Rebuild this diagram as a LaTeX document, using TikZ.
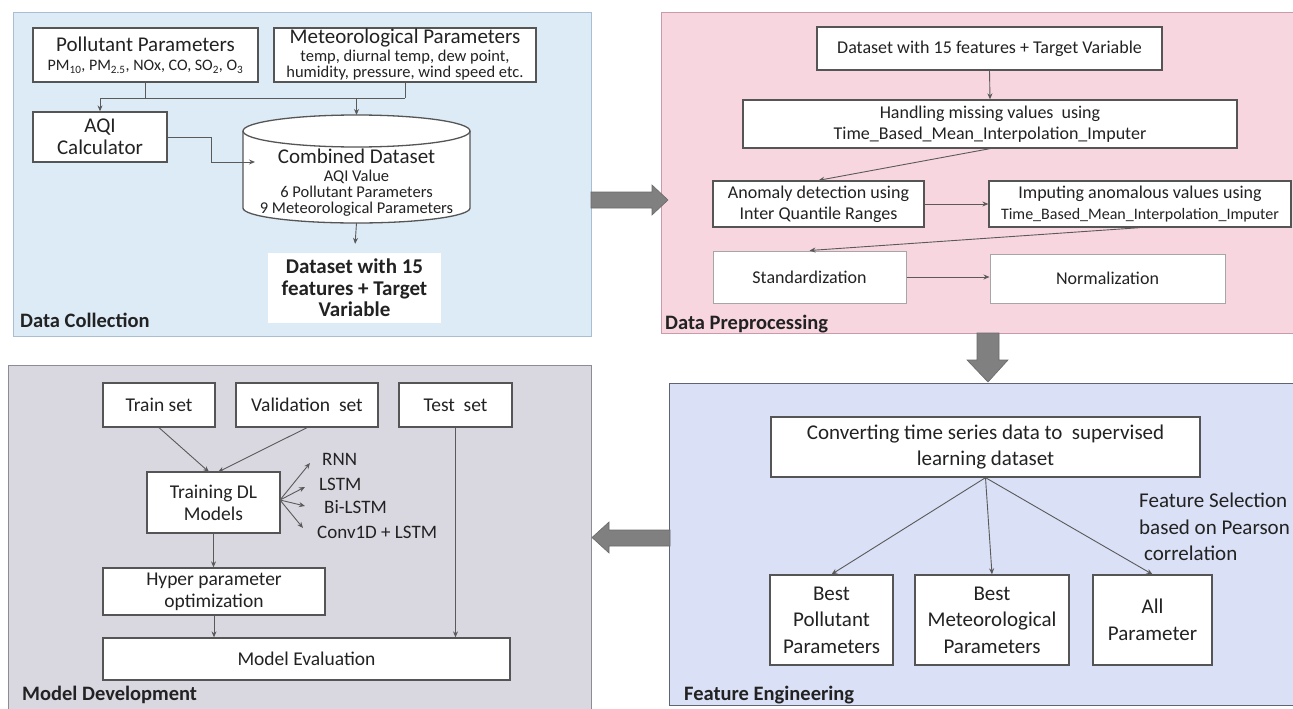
\documentclass[tikz,border=0pt]{standalone}
\usepackage{fontspec}
\setmainfont{Carlito}
\usetikzlibrary{arrows.meta}
\definecolor{dcfill}{HTML}{DDEBF7}
\definecolor{dcline}{HTML}{A9BED3}
\definecolor{dpfill}{HTML}{F7D6E0}
\definecolor{dpline}{HTML}{C99AAA}
\definecolor{mdfill}{HTML}{D9D8E1}
\definecolor{mdline}{HTML}{8C8C94}
\definecolor{fefill}{HTML}{DAE0F5}
\definecolor{feline}{HTML}{5F6372}
\definecolor{boxline}{HTML}{555555}
\definecolor{lightline}{HTML}{A6A6A6}
\definecolor{connc}{HTML}{5A5A5A}
\definecolor{txt}{HTML}{222222}
\definecolor{arrowc}{HTML}{808080}
\definecolor{arrowd}{HTML}{6A6A6A}
\tikzset{
 panel/.style={rectangle, line width=1pt, inner sep=0pt},
 box/.style={rectangle, draw=boxline, line width=1.3pt, fill=white, inner sep=0pt, align=center, text=txt},
 lbox/.style={box, draw=lightline, line width=1pt},
 conn/.style={draw=connc, line width=0.9pt},
 arr/.style={conn, -{Stealth[length=6pt,width=5pt]}},
 plabel/.style={anchor=base west, inner sep=0pt, text=txt, font=\bfseries\fontsize{20.5}{24}\selectfont},
 bigarrow/.style={fill=arrowc, draw=arrowd, line width=0.6pt},
 fA/.style={font=\fontsize{21}{22}\selectfont},
 fE/.style={font=\fontsize{21}{26.5}\selectfont},
 fB/.style={font=\fontsize{18}{21}\selectfont},
 fC/.style={font=\fontsize{19.5}{22}\selectfont},
 lbl/.style={anchor=west, inner sep=0pt, text=txt, font=\fontsize{19}{22}\selectfont},
}
\begin{document}
\begin{tikzpicture}[x=1pt,y=-1pt]
\useasboundingbox (0,0) rectangle (1293,709);
\fill[white] (0,0) rectangle (1293,709);

% ---------- panels ----------
\node[panel, fill=dcfill, draw=dcline, minimum width=578pt, minimum height=323pt] (pDC) at (302,174.5) {};
\node[panel, fill=dpfill, draw=dpline, minimum width=635pt, minimum height=320pt] (pDP) at (978.5,173) {};
\node[panel, fill=mdfill, draw=mdline, minimum width=583pt, minimum height=347pt] (pMD) at (299.5,538.5) {};
\node[panel, fill=fefill, draw=feline, minimum width=627pt, minimum height=322pt] (pFE) at (982.5,544) {};

% ---------- big arrows ----------
\path[bigarrow] (591,192) -- (652,192) -- (652,185) -- (668,200) -- (652,215) -- (652,208) -- (591,208) -- cycle;
\path[bigarrow] (977,333) -- (999,333) -- (999,360) -- (1008,360) -- (988,382) -- (967,360) -- (977,360) -- cycle;
\path[bigarrow] (670,530) -- (609,530) -- (609,522) -- (592,537.5) -- (609,553) -- (609,546) -- (670,546) -- cycle;

% ---------- Data Collection ----------
\node[box, minimum width=225pt, minimum height=54pt, font=\fontsize{16}{17}\selectfont] (pol) at (145.5,55)
  {{\fontsize{21}{22}\selectfont Pollutant Parameters}\\[2pt]PM\textsubscript{10}, PM\textsubscript{2.5}, NOx, CO, SO\textsubscript{2}, O\textsubscript{3}};
\node[box, minimum width=262pt, minimum height=54pt, font=\fontsize{16.5}{16.5}\selectfont] (met) at (405,55)
  {{\fontsize{21}{22}\selectfont Meteorological Parameters}\\[1pt]temp, diurnal temp, dew point,\\humidity, pressure, wind speed etc.};
\node[box, fA, minimum width=134pt, minimum height=50pt] (aqi) at (100,137) {AQI\\Calculator};

% cylinder
\path[fill=white, draw=boxline, line width=1.3pt] (243,131) -- (243,208)
  arc[start angle=180, end angle=0, x radius=113.5, y radius=15] -- (470,131)
  arc[start angle=360, end angle=180, x radius=113.5, y radius=16] -- cycle;
\draw[boxline, line width=1.3pt] (243,131) arc[start angle=180, end angle=0, x radius=113.5, y radius=16];
\node[align=center, text=txt, inner sep=0pt, font=\fontsize{16.5}{16}\selectfont] (cyl) at (356.5,183)
  {{\fontsize{21}{22}\selectfont Combined Dataset}\\[2pt]AQI Value\\6 Pollutant Parameters\\9 Meteorological Parameters};
\coordinate (cylT) at (356.5,115);
\coordinate (cylB) at (356.5,223);
\coordinate (cylL) at (255,162);

\node[rectangle, fill=white, inner sep=0pt, align=center, text=txt, minimum width=173pt, minimum height=70pt,
  font=\bfseries\fontsize{21}{21.5}\selectfont] (ds) at (354.5,288) {Dataset with 15\\features + Target\\Variable};

\coordinate (jA) at (100,98);
\coordinate (jB) at (356.5,98);
\draw[conn] (pol.south) -- (pol.south |- jA);
\draw[conn] (met.south) -- (met.south |- jA);
\draw[conn] (jA) -- (met.south |- jA);
\draw[arr] (jA) -- (aqi.north);
\draw[arr] (jB) -- (cylT);
\draw[arr] (aqi.east) -- (aqi.east -| 211,0) |- (cylL);
\draw[arr, shorten >=9pt] (cylB) -- (ds.north);

\node[plabel] (lDC) at (20,327) {Data Collection};

% ---------- Data Preprocessing ----------
\node[box, fB, minimum width=345pt, minimum height=43pt] (b1) at (989.5,48.5) {Dataset with 15 features + Target Variable};
\node[box, fB, minimum width=494pt, minimum height=48pt] (b2) at (990,124) {Handling missing values\ \ using\\Time\_Based\_Mean\_Interpolation\_Imputer};
\node[box, fB, minimum width=211pt, minimum height=46pt] (an) at (818.5,204) {Anomaly detection using\\Inter Quantile Ranges};
\node[box, fB, minimum width=302pt, minimum height=46pt] (im) at (1140,204) {Imputing anomalous values using\\{\fontsize{16}{18}\selectfont Time\_Based\_Mean\_Interpolation\_Imputer}};
\node[lbox, fB, minimum width=193pt, minimum height=52pt] (st) at (809.5,277) {Standardization};
\node[lbox, fB, minimum width=235pt, minimum height=49pt] (no) at (1107.5,278.5) {Normalization};

\draw[arr] (b1.south) -- (b2.north);
\draw[arr] (b2.south) -- (an.north);
\draw[arr] (an.east) -- (im.west);
\draw[arr] (im.south) -- (st.north);
\draw[arr] (st.east) -- (st.east -| no.west);

\node[plabel] (lDP) at (665,329) {Data Preprocessing};

% ---------- Feature Engineering ----------
\node[box, fE, minimum width=429pt, minimum height=60pt] (cv) at (985.5,447) {Converting time series data to\ \ supervised\\learning dataset};
\node[box, fE, minimum width=123pt, minimum height=90pt] (bp) at (831.5,620) {Best\\Pollutant\\Parameters};
\node[box, fE, minimum width=154pt, minimum height=90pt] (bm) at (992,620) {Best\\Meteorological\\Parameters};
\node[box, fE, minimum width=119pt, minimum height=90pt] (ap) at (1152.5,620) {All\\Parameter};
\draw[arr] (cv.south) -- (bp.north);
\draw[arr] (cv.south) -- (bm.north);
\draw[arr] (cv.south) -- (ap.north);
\node[anchor=north west, align=left, inner sep=0pt, text=txt, font=\fontsize{21}{26.5}\selectfont] (fs) at (1139,493)
  {Feature Selection\\based on Pearson\\\hspace*{5pt}correlation};

\node[plabel] (lFE) at (684,700) {Feature Engineering};

% ---------- Model Development ----------
\node[box, fC, minimum width=112pt, minimum height=44pt] (tr) at (159,405) {Train set};
\node[box, fC, minimum width=142pt, minimum height=44pt] (va) at (307,405) {Validation\ \ set};
\node[box, fC, minimum width=113pt, minimum height=44pt] (te) at (455.5,405) {Test\ \ set};
\node[box, fC, minimum width=133pt, minimum height=61pt] (td) at (213.5,502.5) {Training DL\\Models};
\node[box, fC, minimum width=222pt, minimum height=47pt] (hy) at (214,591.5) {Hyper parameter\\optimization};
\node[box, fC, minimum width=407pt, minimum height=42pt] (me) at (306.5,659) {Model Evaluation};

\coordinate (tdA) at (209,472);
\coordinate (tdB) at (218,472);
\draw[arr] (tr.south) -- (tdA);
\draw[arr] (va.south) -- (tdB);
\draw[arr] (te.south) -- (te.south |- me.north);
\draw[arr] (td.south) -- (td.south |- hy.north);
\draw[arr] (hy.south) -- (hy.south |- me.north);

\node[lbl] (rnn) at (322,459) {RNN};
\node[lbl] (lstm) at (319,484) {LSTM};
\node[lbl] (bil) at (324,507) {Bi-LSTM};
\node[lbl] (cnv) at (317,532) {Conv1D + LSTM};
\coordinate (fO) at (280,500);
\coordinate (eR) at (310,463);
\coordinate (eL) at (305,487);
\coordinate (eB) at (305,506);
\coordinate (eC) at (303,528);
\draw[arr] (fO) -- (eR);
\draw[arr] (fO) -- (eL);
\draw[arr] (fO) -- (eB);
\draw[arr] (fO) -- (eC);

\node[plabel] (lMD) at (22,700) {Model Development};
\end{tikzpicture}
\end{document}
